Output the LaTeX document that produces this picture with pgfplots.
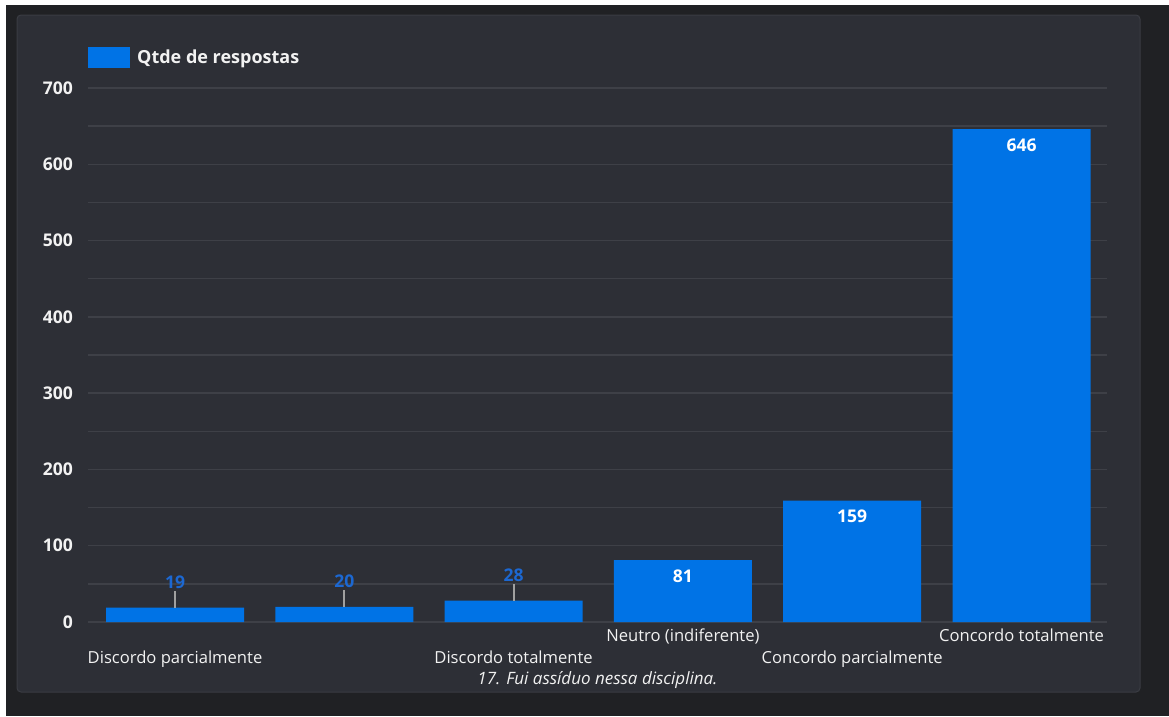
\documentclass[border=0pt]{standalone}
\usepackage{pgfplots}
\pgfplotsset{compat=1.18}
\usepackage{fontspec}
\setmainfont{Open Sans}
\definecolor{outerbg}{HTML}{202124}
\definecolor{panelbg}{HTML}{2D2F36}
\definecolor{panelborder}{HTML}{3A3C43}
\definecolor{barblue}{HTML}{0073E6}
\definecolor{lblblue}{HTML}{1C68D2}
\definecolor{gridc}{HTML}{3E4047}
\definecolor{axisc}{HTML}{D0D0D0}
\definecolor{leaderc}{HTML}{A0A0A0}
\definecolor{txt}{HTML}{F2F2F2}
\begin{document}
\begin{tikzpicture}
\fill[white] (0pt,0pt) rectangle (1169pt,-716pt);
\fill[outerbg] (6pt,-5pt) rectangle (1169pt,-716pt);
\fill[panelbg, draw=panelborder, line width=1pt, rounded corners=4pt] (17pt,-15pt) rectangle (1140pt,-692pt);
\begin{axis}[
  at={(88pt,-622pt)}, anchor=south west,
  scale only axis, width=1019pt, height=534pt,
  xmin=-0.514, xmax=5.505, ymin=0, ymax=700,
  clip=false,
  axis line style={draw=none},
  major tick length=0pt, minor tick length=0pt,
  tick style={draw=none},
  ytick={0,100,...,700},
  minor ytick={50,150,...,650},
  ymajorgrids, yminorgrids,
  major grid style={gridc, line width=1.5pt},
  minor grid style={gridc, line width=1.5pt},
  extra y ticks={0}, extra y tick labels={},
  extra y tick style={grid style={axisc, line width=2pt}},
  /pgf/number format/assume math mode=true,
  yticklabel style={anchor=east, inner sep=0pt, xshift=-15pt, font=\bfseries\fontsize{17.5}{20}\selectfont, text=txt},
  xtick={0,1,2,3,4,5},
  xticklabels={{\strut\\\strut Discordo parcialmente}, {}, {\strut\\\strut Discordo totalmente}, {\strut Neutro (indiferente)}, {\strut\\\strut Concordo parcialmente}, {\strut Concordo totalmente}},
  xticklabel style={align=center, anchor=north, inner sep=0pt, yshift=-4pt, font=\fontsize{16.6}{22}\selectfont, text=txt},
  xlabel={\itshape 17. Fui assíduo nessa disciplina.},
  xlabel style={at={(axis description cs:0.5,0)}, anchor=center, yshift=-58pt, font=\fontsize{17}{20}\selectfont, text=txt},
  legend style={at={(0,1)}, anchor=south west, xshift=0pt, yshift=20pt, draw=none, fill=none, text=txt, font=\bfseries\fontsize{18}{21}\selectfont, inner sep=0pt},
  legend image code/.code={\fill[barblue] (0pt,-10.5pt) rectangle (42pt,10.5pt); \path (47pt,0pt);},
]
\addplot[ybar, bar width=138pt, fill=barblue, draw=none] coordinates {(0,19) (1,20) (2,28) (3,81) (4,159) (5,646)};
\addlegendentry{Qtde de respostas}
\addplot[forget plot, draw=none, mark=none, error bars/.cd, y dir=plus, y explicit, error mark=none, error bar style={color=leaderc, line width=2pt}] coordinates {(0,19) +- (0,22) (1,20) +- (0,22) (2,28) +- (0,22)};
\addplot[forget plot, draw=none, mark=none, point meta=explicit symbolic, nodes near coords, every node near coord/.append style={anchor=south, inner sep=0pt, yshift=2pt, text=lblblue, font=\bfseries\fontsize{17.5}{20}\selectfont}] coordinates {(0,41) [19] (1,42) [20] (2,50) [28]};
\addplot[forget plot, draw=none, mark=none, point meta=explicit symbolic, nodes near coords, every node near coord/.append style={anchor=north, inner sep=0pt, yshift=-9pt, text=white, font=\bfseries\fontsize{17.5}{20}\selectfont}] coordinates {(3,81) [81] (4,159) [159] (5,646) [646]};
\end{axis}
\end{tikzpicture}
\end{document}
